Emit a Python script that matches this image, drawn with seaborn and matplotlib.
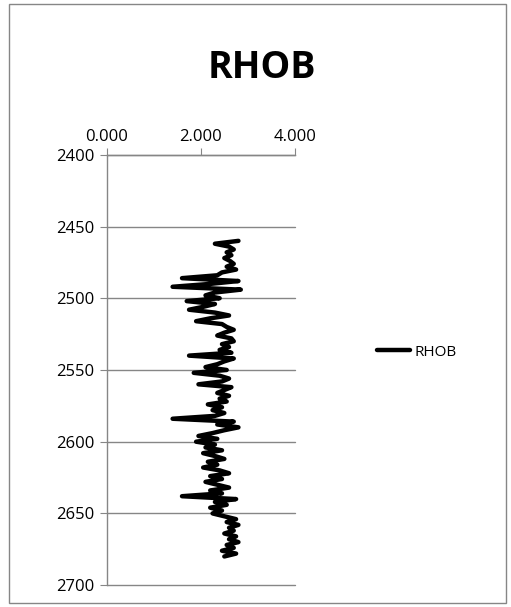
import pandas as pd
import matplotlib
matplotlib.use("Agg")
import matplotlib.pyplot as plt
import seaborn as sns
from matplotlib.patches import Rectangle

# depth samples (m) and bulk density readings (g/cc)
depth = [2460, 2462, 2464, 2466, 2468, 2470, 2472, 2474, 2476, 2478,
         2480, 2482, 2484, 2486, 2488, 2490, 2492, 2494, 2496, 2498,
         2500, 2502, 2504, 2506, 2508, 2510, 2512, 2514, 2516, 2518,
         2520, 2522, 2524, 2526, 2528, 2530, 2532, 2534, 2536, 2538,
         2540, 2542, 2544, 2546, 2548, 2550, 2552, 2554, 2556, 2558,
         2560, 2562, 2564, 2566, 2568, 2570, 2572, 2574, 2576, 2578,
         2580, 2582, 2584, 2586, 2588, 2590, 2592, 2594, 2596, 2598,
         2600, 2602, 2604, 2606, 2608, 2610, 2612, 2614, 2616, 2618,
         2620, 2622, 2624, 2626, 2628, 2630, 2632, 2634, 2636, 2638,
         2640, 2642, 2644, 2646, 2648, 2650, 2652, 2654, 2656, 2658,
         2660, 2662, 2664, 2666, 2668, 2670, 2672, 2674, 2676, 2678, 2680]
rhob = [2.80, 2.30, 2.60, 2.70, 2.55, 2.65, 2.50, 2.62, 2.70, 2.55,
        2.75, 2.45, 2.35, 1.60, 2.80, 2.20, 1.40, 2.85, 2.30, 2.10,
        2.40, 1.70, 2.30, 2.05, 1.75, 2.30, 2.60, 2.20, 1.90, 2.45,
        2.55, 2.70, 2.50, 2.35, 2.65, 2.70, 2.45, 2.60, 2.40, 2.65,
        1.75, 2.70, 2.50, 2.35, 2.10, 2.55, 1.85, 2.40, 2.60, 2.45,
        1.95, 2.65, 2.50, 2.35, 2.60, 2.40, 2.55, 2.15, 2.45, 2.25,
        2.50, 2.30, 1.40, 2.70, 2.35, 2.80, 2.50, 2.25, 1.95, 2.35,
        1.90, 2.30, 2.10, 2.45, 2.05, 2.30, 2.50, 2.15, 2.35, 2.05,
        2.40, 2.60, 2.20, 2.45, 2.10, 2.35, 2.60, 2.20, 2.45, 1.60,
        2.75, 2.30, 2.55, 2.20, 2.45, 2.25, 2.50, 2.75, 2.55, 2.80,
        2.60, 2.70, 2.50, 2.75, 2.60, 2.80, 2.55, 2.70, 2.45, 2.75, 2.50]

x_ticks = [0, 2, 4]
y_ticks = [2400, 2450, 2500, 2550, 2600, 2650, 2700]

df = pd.DataFrame({"Depth": depth, "RHOB": rhob})

sns.set_style("white")
plt.rcParams["font.family"] = ["Open Sans", "DejaVu Sans"]
plt.rcParams["text.color"] = "black"
gray = "#868686"

fig = plt.figure(figsize=(5.11, 6.07), dpi=100)
ax = fig.add_axes([0.209, 0.036, 0.368, 0.709])

sns.lineplot(data=df, x="RHOB", y="Depth", sort=False, estimator=None,
             color="black", linewidth=3.2, label="RHOB", ax=ax,
             solid_joinstyle="round", solid_capstyle="round")

ax.set_xlim(0, 4)
ax.set_ylim(2700, 2400)
ax.set_xticks(x_ticks)
ax.set_xticklabels([f"{t:.3f}" for t in x_ticks])
ax.set_yticks(y_ticks)
ax.xaxis.tick_top()
ax.set_xlabel("")
ax.set_ylabel("")
ax.grid(axis="y", color=gray, linewidth=1)
ax.grid(axis="x", visible=False)
for gl in ax.get_ygridlines():
    gl.set_clip_on(False)
ax.set_axisbelow(True)
for s in ["right", "bottom"]:
    ax.spines[s].set_visible(False)
for s in ["top", "left"]:
    ax.spines[s].set_color(gray)
    ax.spines[s].set_linewidth(1)
ax.tick_params(axis="x", top=True, direction="out", length=5, color=gray,
               labelsize=12, pad=2, labelcolor="black")
ax.tick_params(axis="y", left=True, direction="out", length=5, color=gray,
               labelsize=12, pad=4, labelcolor="black")

ax.legend(loc="center left", bbox_to_anchor=(0.71, 0.42),
          bbox_transform=fig.transFigure, frameon=False, fontsize=11,
          handlelength=2.2, handletextpad=0.3, labelcolor="black")

fig.text(0.512, 0.888, "RHOB", ha="center", va="center", fontsize=27,
         fontweight="bold", color="black")

fig.patches.append(Rectangle((9 / 511, 4 / 607), 497 / 511, 599 / 607,
                             transform=fig.transFigure, fill=False,
                             edgecolor=gray, linewidth=1))

fig.savefig("out.png", dpi=100)
